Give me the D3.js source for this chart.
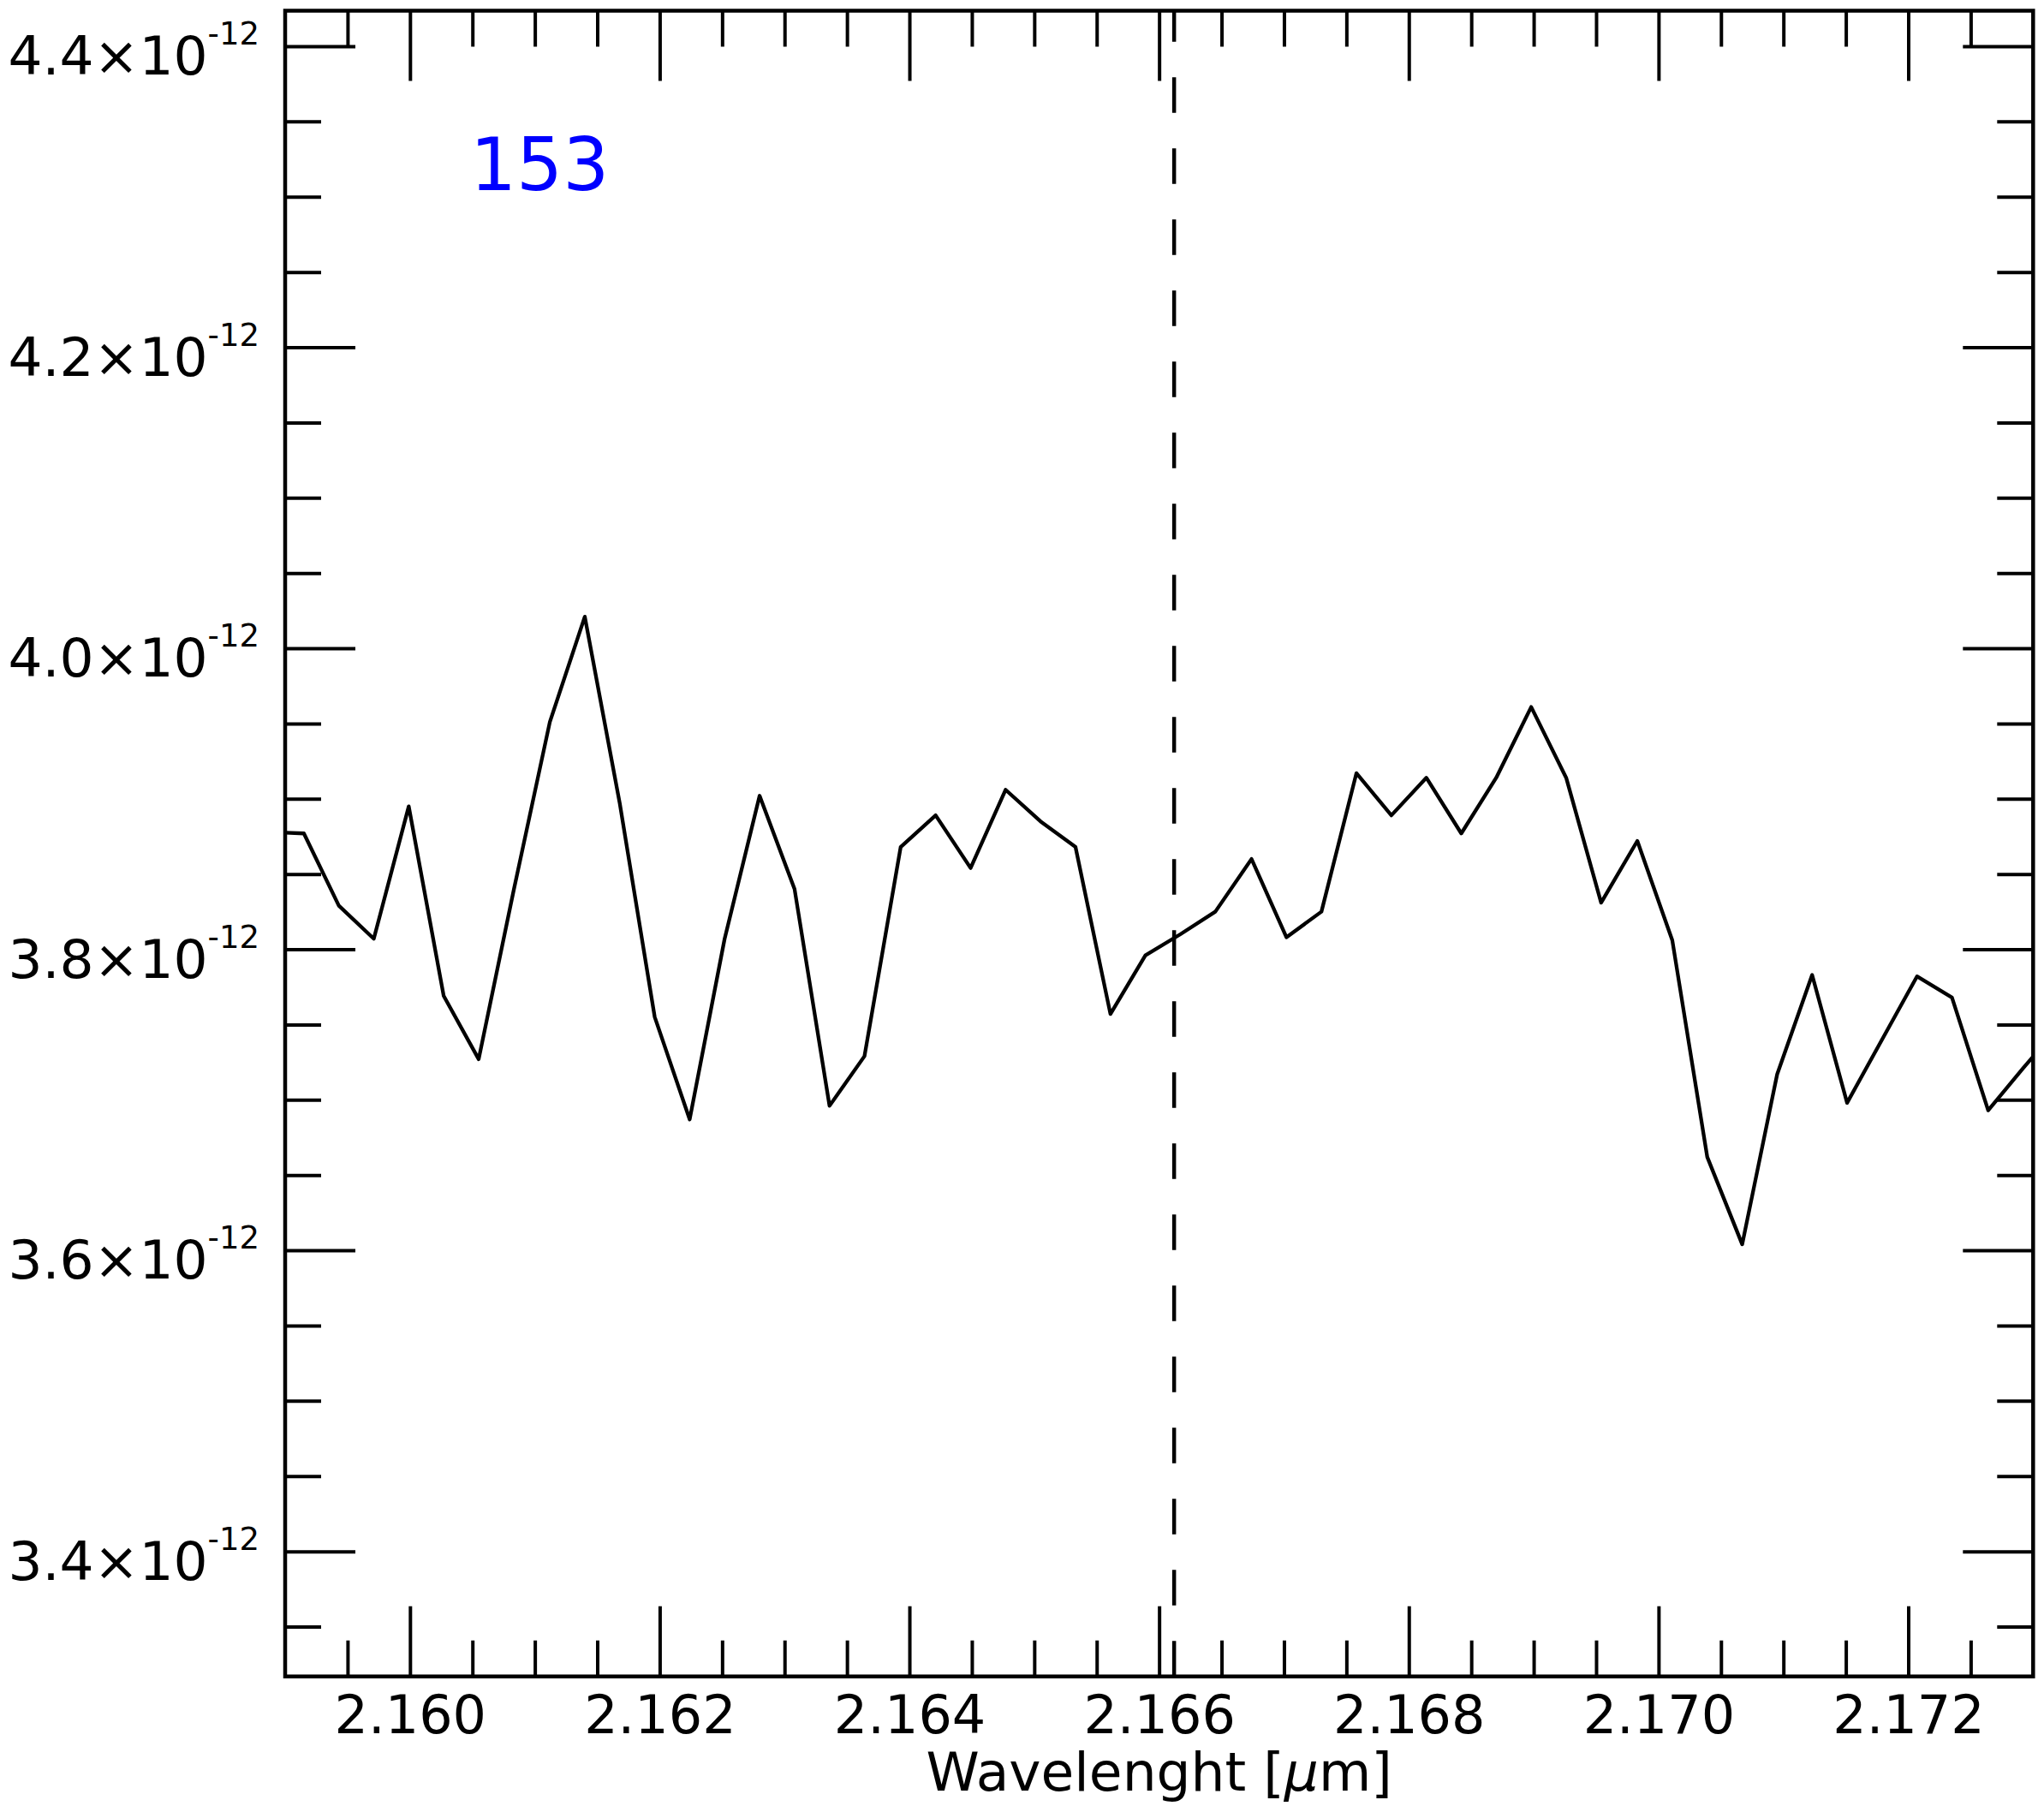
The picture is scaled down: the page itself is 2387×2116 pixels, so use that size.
<!DOCTYPE html>
<html><head><meta charset="utf-8">
<script src="https://cdn.jsdelivr.net/npm/d3@7"></script>
<style>body{margin:0;background:#fff;} svg{display:block;background:#fff;}</style>
</head><body><svg id="chart" width="2387" height="2116"></svg>
<script>
// ---- data ----
const wavelength = [2.15887,2.15915,2.15943,2.15971,2.15999,2.16027,2.16055,2.16083,2.16112,2.16140,
  2.16168,2.16196,2.16224,2.16252,2.16280,2.16308,2.16336,2.16364,2.16393,2.16421,
  2.16449,2.16477,2.16505,2.16533,2.16561,2.16589,2.16617,2.16645,2.16674,2.16702,
  2.16730,2.16758,2.16786,2.16814,2.16842,2.16870,2.16898,2.16926,2.16954,2.16983,
  2.17011,2.17039,2.17067,2.17095,2.17123,2.17151,2.17179,2.17207,2.17235,2.17264,
  2.17292,2.17320];
// flux in units of 1e-12
const flux = [3.878,3.877,3.829,3.807,3.895,3.769,3.727,3.839,3.951,4.021,
  3.897,3.755,3.687,3.807,3.902,3.840,3.696,3.729,3.868,3.889,
  3.854,3.906,3.885,3.868,3.757,3.796,3.810,3.825,3.860,3.808,
  3.825,3.917,3.889,3.914,3.877,3.914,3.961,3.914,3.831,3.872,
  3.806,3.662,3.604,3.717,3.783,3.698,3.740,3.782,3.768,3.693,
  3.721,3.748];
const xMajorTicks = [2.160,2.162,2.164,2.166,2.168,2.170,2.172];
const xTickLabels = ["2.160","2.162","2.164","2.166","2.168","2.170","2.172"];
const yMajorTicks = [3.4,3.6,3.8,4.0,4.2,4.4];
const yTickLabels = ["3.4","3.6","3.8","4.0","4.2","4.4"];
const yExponent = "-12";
const brGamma = 2.16612;
const panelLabel = "153";
const xTitleParts = ["Wavelenght [", "\u03BC", "m]"];

// ---- layout ----
const L = 333, R = 2374.3, T = 12.5, B = 1957.7;
const FONT = "DejaVu Sans";
const x = d3.scaleLinear().domain([2.159, 2.173]).range([L, R]);
const y = d3.scaleLinear().domain([3.3169, 4.4236]).range([B, T]);
const xMinorTicks = d3.range(2.1595, 2.1729, 0.0005).filter(v => !xMajorTicks.some(m => Math.abs(m - v) < 1e-7));
const yMinorTicks = d3.range(3.35, 4.42, 0.05).filter(v => !yMajorTicks.some(m => Math.abs(m - v) < 1e-7));

const svg = d3.select("#chart");
svg.append("defs").append("clipPath").attr("id", "clip")
  .append("rect").attr("x", L).attr("y", T).attr("width", R - L).attr("height", B - T);

// data line
const pts = wavelength.map((w, i) => [w, flux[i]]);
svg.append("path").datum(pts)
  .attr("clip-path", "url(#clip)")
  .attr("fill", "none").attr("stroke", "#000").attr("stroke-width", 4.3)
  .attr("stroke-linejoin", "round")
  .attr("d", d3.line().x(d => x(d[0])).y(d => y(d[1])));

// Br gamma dashed line (drawn bottom to top)
svg.append("path").datum([[brGamma, y.domain()[0]], [brGamma, y.domain()[1]]])
  .attr("fill", "none").attr("stroke", "#000").attr("stroke-width", 4.5)
  .attr("stroke-dasharray", "41.5,41.5")
  .attr("d", d3.line().x(d => x(d[0])).y(d => y(d[1])));

// ticks via d3 axes (inward)
function styleAxis(g) {
  g.select(".domain").remove();
  g.selectAll(".tick line").attr("stroke", "#000").attr("stroke-width", 4);
}
const MAJ = 82, MIN = 42;
// bottom
svg.append("g").attr("transform", `translate(0,${B})`)
  .call(d3.axisBottom(x).tickValues(xMinorTicks).tickSize(-MIN).tickFormat(""))
  .call(styleAxis).selectAll("text").remove();
const bx = svg.append("g").attr("transform", `translate(0,${B})`)
  .call(d3.axisBottom(x).tickValues(xMajorTicks).tickSize(-MAJ)
    .tickFormat((d, i) => xTickLabels[i]).tickPadding(0))
  .call(styleAxis);
bx.selectAll(".tick text").attr("y", 66.5).attr("dy", 0)
  .attr("font-family", FONT).attr("font-size", 62).attr("fill", "#000");
// top
svg.append("g").attr("transform", `translate(0,${T})`)
  .call(d3.axisTop(x).tickValues(xMinorTicks).tickSize(-MIN).tickFormat(""))
  .call(styleAxis).selectAll("text").remove();
svg.append("g").attr("transform", `translate(0,${T})`)
  .call(d3.axisTop(x).tickValues(xMajorTicks).tickSize(-MAJ).tickFormat(""))
  .call(styleAxis).selectAll("text").remove();
// left
svg.append("g").attr("transform", `translate(${L},0)`)
  .call(d3.axisLeft(y).tickValues(yMinorTicks).tickSize(-MIN).tickFormat(""))
  .call(styleAxis).selectAll("text").remove();
const ly = svg.append("g").attr("transform", `translate(${L},0)`)
  .call(d3.axisLeft(y).tickValues(yMajorTicks).tickSize(-MAJ).tickFormat("").tickPadding(30))
  .call(styleAxis);
ly.selectAll(".tick text").each(function(d, i) {
  const t = d3.select(this);
  t.text(null).attr("x", -30).attr("y", 32.5).attr("dy", 0)
    .attr("text-anchor", "end").attr("font-family", FONT).attr("font-size", 63).attr("fill", "#000");
  t.append("tspan").text(yTickLabels[i] + "\u00D710");
  t.append("tspan").attr("font-size", 37).attr("dy", -35).text(yExponent);
});
// right
svg.append("g").attr("transform", `translate(${R},0)`)
  .call(d3.axisRight(y).tickValues(yMinorTicks).tickSize(-MIN).tickFormat(""))
  .call(styleAxis).selectAll("text").remove();
svg.append("g").attr("transform", `translate(${R},0)`)
  .call(d3.axisRight(y).tickValues(yMajorTicks).tickSize(-MAJ).tickFormat(""))
  .call(styleAxis).selectAll("text").remove();

// frame
svg.append("rect").attr("x", L).attr("y", T).attr("width", R - L).attr("height", B - T)
  .attr("fill", "none").attr("stroke", "#000").attr("stroke-width", 4.5);

// x title
const xt = svg.append("text").attr("x", (L + R) / 2).attr("y", 2091)
  .attr("text-anchor", "middle").attr("font-family", FONT).attr("font-size", 63).attr("fill", "#000");
xt.append("tspan").text(xTitleParts[0]);
xt.append("tspan").attr("font-style", "italic").text(xTitleParts[1]);
xt.append("tspan").text(xTitleParts[2]);

// panel label
svg.append("text").attr("x", 549).attr("y", 222.3)
  .attr("font-family", FONT).attr("font-size", 85).attr("fill", "#0000ff").text(panelLabel);
</script>
</body></html>
